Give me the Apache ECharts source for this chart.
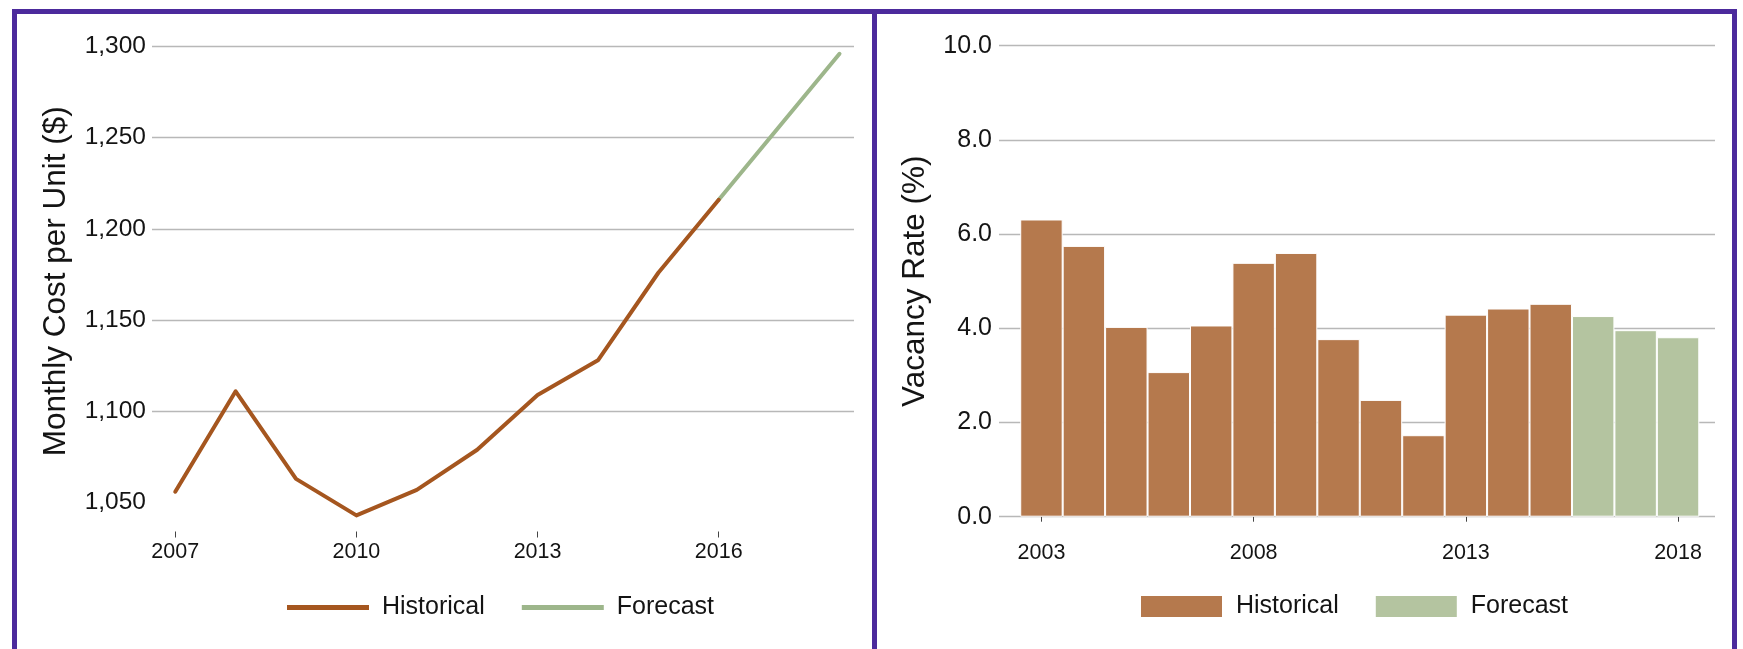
<!DOCTYPE html>
<html>
<head>
<meta charset="utf-8">
<script src="https://cdn.jsdelivr.net/npm/echarts@6/dist/echarts.min.js"></script>
<style>
html, body { margin: 0; padding: 0; background: #ffffff; }
#chart { width: 1743px; height: 649px; }
</style>
</head>
<body>
<div id="chart"></div>
<script>
// ---- Left panel: monthly cost per unit ----
const costYears = [2007, 2008, 2009, 2010, 2011, 2012, 2013, 2014, 2015, 2016, 2017, 2018];
const costHistorical = [1056, 1111, 1063, 1043, 1057, 1079, 1109, 1128, 1176, 1216, null, null];
const costForecast = [null, null, null, null, null, null, null, null, null, 1216, 1256, 1296];
const costXTicks = [2007, 2010, 2013, 2016];
const costYTicks = [1050, 1100, 1150, 1200, 1250, 1300];

// ---- Right panel: vacancy rate ----
const vacancyYears = [2003, 2004, 2005, 2006, 2007, 2008, 2009, 2010, 2011, 2012, 2013, 2014, 2015, 2016, 2017, 2018];
const vacancyHistorical = [6.31, 5.75, 4.03, 3.07, 4.06, 5.39, 5.60, 3.77, 2.48, 1.73, 4.29, 4.42, 4.52, null, null, null];
const vacancyForecast = [null, null, null, null, null, null, null, null, null, null, null, null, null, 4.26, 3.96, 3.81];
const vacancyXTicks = [2003, 2008, 2013, 2018];
const vacancyYTicks = [0, 2, 4, 6, 8, 10];

const FONT = '"Liberation Sans", Arial, Helvetica, sans-serif';
const TEXT = '#141414';
const GRIDLINE = '#b8b8b8';
const TICK = '#444444';
const PURPLE = '#4C2A9C';
const LINE_HIST = '#A5561F';
const LINE_FC = '#9DB68B';
const BAR_HIST = '#B5794D';
const BAR_FC = '#B4C4A0';

const pairs = (xs, ys) => xs.map((x, i) => [x, ys[i]]);

const chart = echarts.init(document.getElementById('chart'), null, { renderer: 'canvas' });

chart.setOption({
  animation: false,
  backgroundColor: '#ffffff',
  textStyle: { fontFamily: FONT },
  graphic: [
    {
      type: 'rect', silent: true, z: 100,
      shape: { x: 14.5, y: 11.5, width: 1720, height: 700 },
      style: { fill: null, stroke: PURPLE, lineWidth: 5 }
    },
    {
      type: 'line', silent: true, z: 100,
      shape: { x1: 874.5, y1: 11.5, x2: 874.5, y2: 700 },
      style: { stroke: PURPLE, lineWidth: 5 }
    }
  ],
  grid: [
    { left: 152, right: 889, top: 46.5, bottom: 119 },
    { left: 999, right: 28, top: 45.7, bottom: 132.3 }
  ],
  xAxis: [
    {
      gridIndex: 0, type: 'value', min: 2006.615, max: 2018.24,
      offset: 1.5,
      axisLine: { show: false },
      axisTick: { show: true, customValues: costXTicks, length: 6, lineStyle: { color: TICK, width: 1 } },
      axisLabel: { customValues: costXTicks, formatter: v => String(v), fontSize: 21.5, color: TEXT, margin: 10, fontFamily: FONT },
      splitLine: { show: false }
    },
    {
      gridIndex: 1, type: 'value', min: 2002.0, max: 2018.87,
      offset: 15,
      axisLine: { show: false },
      axisTick: { show: true, customValues: vacancyXTicks, length: 5, lineStyle: { color: TICK, width: 1 } },
      axisLabel: { customValues: vacancyXTicks, formatter: v => String(v), fontSize: 21.5, color: TEXT, margin: 10, fontFamily: FONT },
      splitLine: { show: false }
    }
  ],
  yAxis: [
    {
      gridIndex: 0, type: 'value', min: 1035, max: 1300,
      axisLine: { show: false },
      axisTick: { show: false, customValues: costYTicks },
      axisLabel: { customValues: costYTicks, formatter: v => v.toLocaleString('en-US'), fontSize: 24.5, color: TEXT, margin: 6, fontFamily: FONT },
      splitLine: { show: true, showMinLine: false, lineStyle: { color: GRIDLINE, width: 1.3 } },
      name: 'Monthly Cost per Unit ($)',
      nameLocation: 'middle', nameRotate: 90, nameGap: 80, nameMoveOverlap: false,
      nameTextStyle: { fontSize: 31.5, color: TEXT, fontFamily: FONT, padding: [0, 0, 0, 14] }
    },
    {
      gridIndex: 1, type: 'value', min: 0, max: 10, interval: 2,
      axisLine: { show: false },
      axisTick: { show: false },
      axisLabel: { formatter: v => v.toFixed(1), fontSize: 25, color: TEXT, margin: 7, fontFamily: FONT },
      splitLine: { show: true, lineStyle: { color: GRIDLINE, width: 1.3 } },
      name: 'Vacancy Rate (%)',
      nameLocation: 'middle', nameRotate: 90, nameGap: 68, nameMoveOverlap: false,
      nameTextStyle: { fontSize: 31.5, color: TEXT, fontFamily: FONT }
    }
  ],
  legend: [
    {
      left: 287, top: 595, padding: 0, icon: 'rect', itemWidth: 82, itemHeight: 5, itemGap: 37,
      selectedMode: false,
      textStyle: { fontSize: 25, color: TEXT, fontFamily: FONT, padding: [0, 0, 0, 8] },
      data: [
        { name: 'Historical', itemStyle: { color: LINE_HIST, borderWidth: 0 } },
        { name: 'Forecast', itemStyle: { color: LINE_FC, borderWidth: 0 } }
      ]
    },
    {
      left: 1141, top: 594, padding: 0, icon: 'rect', itemWidth: 81, itemHeight: 21, itemGap: 37,
      selectedMode: false,
      textStyle: { fontSize: 25, color: TEXT, fontFamily: FONT, padding: [0, 0, 0, 9] },
      data: [
        { name: 'Historical', itemStyle: { color: BAR_HIST, borderWidth: 0 } },
        { name: 'Forecast', itemStyle: { color: BAR_FC, borderWidth: 0 } }
      ]
    }
  ],
  series: [
    {
      name: 'Historical', type: 'line', xAxisIndex: 0, yAxisIndex: 0,
      data: pairs(costYears, costHistorical),
      showSymbol: false, symbol: 'none',
      color: LINE_HIST,
      lineStyle: { color: LINE_HIST, width: 4, cap: 'round', join: 'round' },
      z: 3
    },
    {
      name: 'Forecast', type: 'line', xAxisIndex: 0, yAxisIndex: 0,
      data: pairs(costYears, costForecast),
      showSymbol: false, symbol: 'none',
      color: LINE_FC,
      lineStyle: { color: LINE_FC, width: 4, cap: 'round', join: 'round' },
      z: 2
    },
    {
      name: 'Historical', type: 'bar', xAxisIndex: 1, yAxisIndex: 1,
      data: pairs(vacancyYears, vacancyHistorical),
      barCategoryGap: '0%', barGap: '-100%',
      itemStyle: { color: BAR_HIST, borderColor: '#ffffff', borderWidth: 1 }
    },
    {
      name: 'Forecast', type: 'bar', xAxisIndex: 1, yAxisIndex: 1,
      data: pairs(vacancyYears, vacancyForecast),
      barCategoryGap: '0%', barGap: '-100%',
      itemStyle: { color: BAR_FC, borderColor: '#ffffff', borderWidth: 1 }
    }
  ]
});
</script>
</body>
</html>
